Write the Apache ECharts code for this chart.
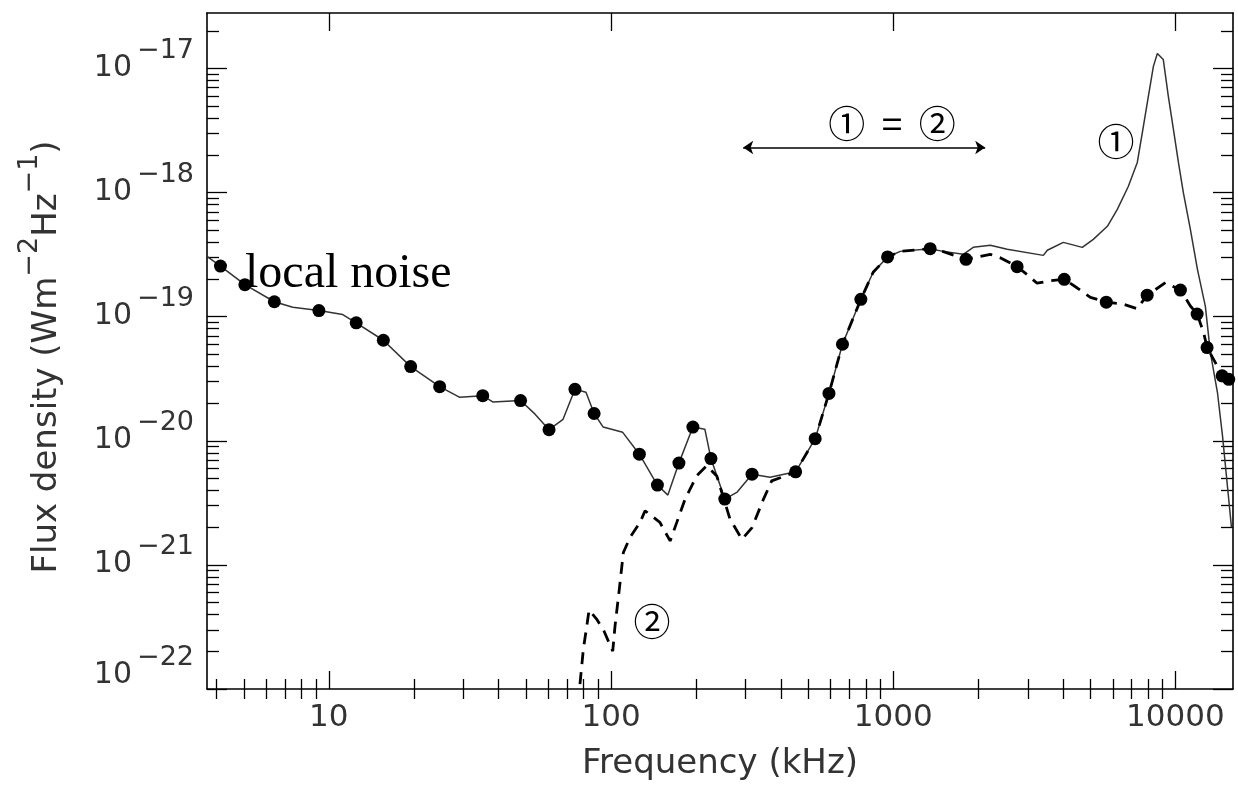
<!DOCTYPE html>
<html>
<head>
<meta charset="utf-8">
<script src="https://cdn.jsdelivr.net/npm/echarts@6/dist/echarts.min.js"></script>
<style>
  html, body { margin: 0; padding: 0; background: #fff; }
  #chart { width: 1238px; height: 787px; }
</style>
</head>
<body>
<div id="chart"></div>
<script>
// Spectrum ① : total flux density (frequency in kHz, flux in W m^-2 Hz^-1)
const fullFreq = [3.7, 4.13, 5.04, 6.41, 7.45, 9.22, 11.2, 12.5, 15.6, 19.5, 24.7, 29.1, 35.1, 38.2, 47.8, 53.8,
  60.3, 67.6, 74.5, 81.5, 87.1, 93.8, 110, 126, 146, 159, 174, 195, 215, 226, 253, 280, 316, 366, 451, 529,
  592, 661, 768, 849, 955, 1059, 1352, 1503, 1771, 1922, 2209, 2535, 3404, 3516, 4008, 4677, 5117, 5741,
  6225, 6808, 7328, 7638, 8020, 8356, 8630, 9060, 9440, 9840, 10250, 10670, 11300, 11970, 12770, 13300,
  14090, 14690, 15290, 15800];
const fullFlux = [3.06e-19, 2.56e-19, 1.81e-19, 1.32e-19, 1.19e-19, 1.12e-19, 1.04e-19, 8.93e-20, 6.46e-20,
  3.96e-20, 2.73e-20, 2.24e-20, 2.31e-20, 2.05e-20, 2.11e-20, 1.64e-20, 1.23e-20, 1.49e-20, 2.60e-20,
  2.46e-20, 1.66e-20, 1.29e-20, 1.17e-20, 7.80e-21, 4.40e-21, 3.65e-21, 6.61e-21, 1.29e-20, 1.24e-20,
  7.19e-21, 3.39e-21, 3.86e-21, 5.38e-21, 5.09e-21, 5.62e-21, 1.04e-20, 2.41e-20, 6.00e-20, 1.38e-19,
  2.28e-19, 3.03e-19, 3.36e-19, 3.53e-19, 3.36e-19, 3.18e-19, 3.62e-19, 3.76e-19, 3.49e-19, 3.12e-19,
  3.43e-19, 3.97e-19, 3.62e-19, 4.20e-19, 5.35e-19, 7.33e-19, 1.12e-18, 1.75e-18, 3.05e-18, 5.96e-18,
  1.04e-17, 1.32e-17, 1.18e-17, 5.96e-18, 3.23e-18, 1.75e-18, 1.00e-18, 5.06e-19, 2.41e-19, 1.21e-19,
  5.16e-20, 2.46e-20, 1.09e-20, 4.30e-21, 2.01e-21];

// Spectrum ② : dashed curve
const dashFreq = [76.4, 79.8, 82.4, 83.6, 88.9, 94.4, 101.4, 103.3, 107, 110.6, 116.7, 126.7, 132, 149, 162,
  171, 183, 201, 218, 237, 264, 291, 316, 347, 371, 451, 529, 592, 661, 768, 849, 955, 1059, 1352, 1507,
  1811, 2209, 2393, 2748, 2979, 3234, 3555, 4037, 4478, 5000, 5689, 6561, 7311, 7943, 9222, 10420, 11300,
  11940, 12590, 12950, 14060, 14640, 15450];
const dashFlux = [7.57e-23, 2.10e-22, 3.44e-22, 4.33e-22, 3.66e-22, 2.93e-22, 2.02e-22, 3.21e-22, 6.38e-22,
  1.26e-21, 1.66e-21, 2.20e-21, 2.73e-21, 2.20e-21, 1.56e-21, 2.20e-21, 3.39e-21, 5.21e-21, 6.28e-21,
  5.21e-21, 2.34e-21, 1.61e-21, 2.00e-21, 3.39e-21, 4.75e-21, 5.62e-21, 1.04e-20, 2.41e-20, 6.00e-20,
  1.38e-19, 2.28e-19, 3.03e-19, 3.36e-19, 3.53e-19, 3.34e-19, 2.90e-19, 3.18e-19, 2.99e-19, 2.53e-19,
  2.19e-19, 1.86e-19, 1.94e-19, 2.00e-19, 1.71e-19, 1.43e-19, 1.31e-19, 1.26e-19, 1.16e-19, 1.49e-19,
  1.88e-19, 1.64e-19, 1.22e-19, 1.05e-19, 7.45e-20, 5.64e-20, 4.01e-20, 3.34e-20, 2.94e-20];

// Local noise samples (filled dots)
const dotFreq = [4.13, 5.04, 6.41, 9.22, 12.5, 15.6, 19.5, 24.7, 35.1, 47.8, 60.3, 74.5, 87.1, 126, 146, 174,
  195, 226, 253, 316, 451, 529, 592, 661, 768, 955, 1352, 1811, 2748, 4037, 5689, 7943, 10420, 11940,
  12950, 14640, 15450];
const dotFlux = [2.56e-19, 1.81e-19, 1.32e-19, 1.12e-19, 8.93e-20, 6.46e-20, 3.96e-20, 2.73e-20, 2.31e-20,
  2.11e-20, 1.23e-20, 2.60e-20, 1.66e-20, 7.80e-21, 4.40e-21, 6.61e-21, 1.29e-20, 7.19e-21, 3.39e-21,
  5.38e-21, 5.62e-21, 1.04e-20, 2.41e-20, 6.00e-20, 1.38e-19, 3.03e-19, 3.53e-19, 2.90e-19, 2.53e-19,
  2.00e-19, 1.31e-19, 1.49e-19, 1.64e-19, 1.05e-19, 5.64e-20, 3.34e-20, 3.13e-20];

// Band where ① and ② coincide (kHz) and the flux level of its arrow
const equalBand = [294, 2118];
const equalBandLevel = 2.31e-18;

// Axis ranges and tick values
const X_MIN = 3.7, X_MAX = 16000;
const Y_MIN = 1e-22, Y_MAX = 2.8e-17;
const xMajorTicks = [10, 100, 1000, 10000];
const yMajorTicks = [1e-22, 1e-21, 1e-20, 1e-19, 1e-18, 1e-17];

function minorTicks(firstExp, lastExp, lo, hi) {
  const out = [];
  for (let e = firstExp; e <= lastExp; e++) {
    for (let k = 2; k <= 9; k++) {
      const v = k * Math.pow(10, e);
      if (v >= lo && v <= hi) out.push(v);
    }
  }
  return out;
}
const xMinorTicks = minorTicks(0, 4, X_MIN, X_MAX);
const yMinorTicks = minorTicks(-22, -17, Y_MIN, Y_MAX);

const zip = (a, b) => a.map((v, i) => [v, b[i]]);

const TEXT = '#333';
const SANS = 'DejaVu Sans';
const CIRCLED = 'Noto Sans CJK JP';

function logAxis(dim, position, ticks, len, extra) {
  const isX = dim === 'x';
  return Object.assign({
    type: 'log', logBase: 10, gridIndex: 0, position: position,
    min: isX ? X_MIN : Y_MIN, max: isX ? X_MAX : Y_MAX,
    axisLine: { show: true, onZero: false, lineStyle: { color: '#000', width: 1.6 } },
    axisTick: { show: true, inside: true, length: len, customValues: ticks,
      lineStyle: { color: '#000', width: 1.3 } },
    axisLabel: { show: false },
    splitLine: { show: false },
    minorTick: { show: false },
    minorSplitLine: { show: false }
  }, extra || {});
}

// "10" followed by a raised exponent
const expLabel = (v) => '{b|10}{s|\u2212' + (-Math.round(Math.log10(v))) + '}';
const expRich = {
  b: { fontFamily: SANS, fontSize: 30, color: TEXT, lineHeight: 46, verticalAlign: 'bottom' },
  s: { fontFamily: SANS, fontSize: 27, color: TEXT, verticalAlign: 'top', padding: [0, 0, 0, 5] }
};

const chart = echarts.init(document.getElementById('chart'), null, { renderer: 'canvas' });

chart.setOption({
  animation: false,
  backgroundColor: '#fff',
  grid: { left: 207, right: 5, top: 13, bottom: 98, containLabel: false, outerBoundsMode: 'none' },
  xAxis: [
    logAxis('x', 'bottom', xMajorTicks, 18, {
      axisLabel: {
        show: true, customValues: xMajorTicks, margin: 13,
        fontFamily: SANS, fontSize: 31, color: TEXT,
        formatter: (v) => String(Math.round(v))
      },
      name: 'Frequency (kHz)', nameLocation: 'middle', nameGap: 58,
      nameTextStyle: { fontFamily: SANS, fontSize: 34, color: TEXT }
    }),
    logAxis('x', 'bottom', xMinorTicks, 10, { axisLine: { show: false } }),
    logAxis('x', 'top', xMajorTicks, 18),
    logAxis('x', 'top', xMinorTicks, 10, { axisLine: { show: false } })
  ],
  yAxis: [
    logAxis('y', 'left', yMajorTicks, 20, {
      axisLabel: {
        show: true, customValues: yMajorTicks.slice(1), margin: 13,
        padding: [0, 0, 17, 0],
        formatter: expLabel, rich: expRich
      }
    }),
    logAxis('y', 'left', yMinorTicks, 12, {
      axisLine: { show: false },
      axisLabel: {
        show: true, customValues: [Y_MIN], margin: 13,
        padding: [0, 0, 43, 0],
        formatter: expLabel, rich: expRich
      }
    }),
    logAxis('y', 'right', yMajorTicks, 20),
    logAxis('y', 'right', yMinorTicks, 12, { axisLine: { show: false } })
  ],
  series: [
    {
      name: '①', type: 'line', xAxisIndex: 0, yAxisIndex: 0,
      data: zip(fullFreq, fullFlux), symbol: 'none', clip: true, z: 2,
      lineStyle: { color: '#333', width: 1.5 }
    },
    {
      name: '②', type: 'line', xAxisIndex: 0, yAxisIndex: 0,
      data: zip(dashFreq, dashFlux), symbol: 'none', clip: true, z: 3,
      lineStyle: { color: '#000', width: 2.8, type: [12, 8] }
    },
    {
      name: 'local noise', type: 'scatter', xAxisIndex: 0, yAxisIndex: 0,
      data: zip(dotFreq, dotFlux), symbol: 'circle', symbolSize: 13, z: 4,
      itemStyle: { color: '#000', opacity: 1 },
      markLine: {
        silent: true, symbol: ['arrow', 'arrow'], symbolSize: 10,
        label: { show: false },
        lineStyle: { color: '#000', width: 1.5, type: 'solid', opacity: 1 },
        data: [[{ coord: [equalBand[0], equalBandLevel] }, { coord: [equalBand[1], equalBandLevel] }]]
      }
    }
  ],
  graphic: [
    { type: 'text', x: 245, y: 274,
      style: { text: 'local noise', fontFamily: 'Liberation Serif', fontSize: 48, fill: '#000',
        align: 'left', verticalAlign: 'middle' } },
    { type: 'text', x: 892, y: 124,
      style: { text: '①  =  ②', fontFamily: CIRCLED, fontSize: 37, fill: '#000',
        align: 'center', verticalAlign: 'middle' } },
    { type: 'text', x: 1116, y: 142,
      style: { text: '①', fontFamily: CIRCLED, fontSize: 37, fill: '#000',
        align: 'center', verticalAlign: 'middle' } },
    { type: 'text', x: 652, y: 622,
      style: { text: '②', fontFamily: CIRCLED, fontSize: 37, fill: '#000',
        align: 'center', verticalAlign: 'middle' } },
    { type: 'text', x: 40, y: 357, rotation: Math.PI / 2,
      style: {
        text: '{n|Flux density (Wm}{s|\u22122}{n|Hz}{s|\u22121}{n|)}',
        align: 'center', verticalAlign: 'middle',
        rich: {
          n: { fontFamily: SANS, fontSize: 34, fill: TEXT, lineHeight: 48, verticalAlign: 'bottom' },
          s: { fontFamily: SANS, fontSize: 27, fill: TEXT, verticalAlign: 'top' }
        }
      } }
  ]
});
</script>
</body>
</html>
